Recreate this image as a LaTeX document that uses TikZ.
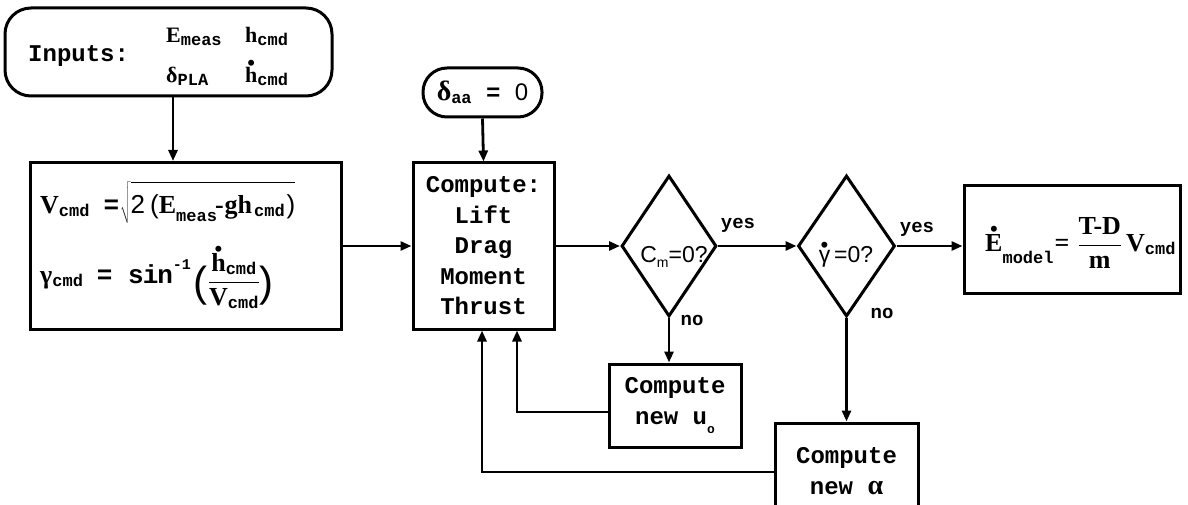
\documentclass[tikz,border=0pt]{standalone}
\usepackage{fontspec}
\setmainfont{Liberation Serif}
\setmonofont{Liberation Mono}
\newfontfamily\sansf{Liberation Sans}
\usetikzlibrary{shapes.geometric,arrows.meta}
\newcommand\tfnt{\fontsize{24}{30.5}\selectfont\ttfamily\bfseries}
\newcommand\sbx[2][3pt]{\raisebox{-#1}{\fontsize{17}{17}\selectfont\ttfamily\bfseries #2}}
\newcommand\dotover[1]{\leavevmode\vbox{\offinterlineskip\halign{\hfil##\hfil\cr{\fontsize{22}{22}\selectfont\textbullet}\cr\noalign{\kern-3pt}#1\cr}}}
\newcommand\bigpar[1]{\raisebox{-13pt}{\fontsize{42}{42}\selectfont\sansf\mdseries #1}}
\begin{document}
\begin{tikzpicture}[x=1pt,y=-1pt,
  box/.style={draw, line width=3pt, inner sep=0pt, align=center, font=\tfnt},
  arr/.style={-{Triangle[length=11pt,width=9pt]}, line width=2.8pt},
  lab/.style={font=\fontsize{19}{19}\selectfont\ttfamily\bfseries, inner sep=0pt},
  txt/.style={inner sep=0pt, anchor=base west},
  mth/.style={txt, font=\fontsize{26}{26}\selectfont\rmfamily\bfseries},
  dia/.style={draw, shape=diamond, line width=3pt, inner sep=0pt, minimum width=95pt, minimum height=141pt},
]
\path[use as bounding box] (0,0) rectangle (1188,505);

% Inputs
\node[box, rounded corners=26pt, minimum width=327pt, minimum height=88pt] (in) at (168.5,52) {};
\node[txt, font=\tfnt] (inl) at (28,62) {Inputs:};
\node[mth, font=\fontsize{22}{22}\selectfont\rmfamily\bfseries] (ie) at (166,43) {E\sbx{meas}};
\node[mth, font=\fontsize{22}{22}\selectfont\rmfamily\bfseries] (ih) at (245,43) {h\sbx{cmd}};
\node[mth, font=\fontsize{22}{22}\selectfont\rmfamily\bfseries] (id) at (166,83) {δ\sbx{PLA}};
\node[mth, font=\fontsize{22}{22}\selectfont\rmfamily\bfseries] (ihd) at (245,83) {\dotover{h}\sbx{cmd}};

% Formula box
\node[box, minimum width=311pt, minimum height=167pt] (form) at (185.5,246) {};
\node[mth] (fv) at (40,213)
  {V\sbx{cmd}\hspace{14pt}{\ttfamily =}\hspace{1pt}$\sqrt{\hbox{\rule{0pt}{29pt}{\sansf\mdseries 2\hspace{5pt}(}E\sbx[9pt]{meas}\kern-2pt-\kern1pt gh\kern2pt\sbx{cmd}{\sansf\mdseries\kern2pt)}}}$};
\node[mth] (fg) at (40,283)
  {γ\sbx{cmd}\hspace{14pt}{\ttfamily = s\kern-1pt i\kern-1pt n}\raisebox{14pt}{\fontsize{15}{15}\selectfont\ttfamily\bfseries -1}\kern3pt%
   \bigpar{(}\raisebox{-5pt}{$\displaystyle\frac{\hbox{\dotover{h}\sbx{cmd}}}{\hbox{V\sbx{cmd}}}$}\bigpar{)}};

% delta_aa = 0
\node[box, rounded corners=24pt, minimum width=119pt, minimum height=49pt] (delta) at (482.5,92.5)
  {{\fontsize{28}{28}\selectfont\rmfamily\bfseries δ}\sbx{aa} = {\sansf\mdseries 0}};

% Compute box
\node[box, minimum width=141pt, minimum height=166pt] (comp) at (483.5,246)
  {Compute:\\Lift\\Drag\\Moment\\Thrust};

% Diamonds
\node[dia] (d1) at (669,246) {};
\node[font=\fontsize{23}{23}\selectfont\sansf, inner sep=0pt, anchor=base] (t1) at (674,262)
  {C\raisebox{-5pt}{\fontsize{14}{14}\selectfont m}=0?};
\node[dia, minimum width=97pt] (d2) at (846.5,246) {};
\node[font=\fontsize{23}{23}\selectfont\sansf, inner sep=0pt, anchor=base] (t2) at (846,262)
  {\dotover{γ}\,=0?};

% E model box
\node[box, minimum width=216pt, minimum height=107pt] (E) at (1072,239.5) {};
\node[mth] (et) at (985,251)
  {\dotover{E}\raisebox{-13pt}{\fontsize{17}{17}\selectfont\ttfamily\bfseries model}\kern1pt=\kern8pt$\displaystyle\frac{\hbox{T-D}}{\hbox{m}}$\kern4pt V\sbx{cmd}};

% Compute new u0
\node[box, minimum width=132pt, minimum height=83pt] (u0) at (675,405.5)
  {Compute\\new u\raisebox{-9pt}{\fontsize{13}{13}\selectfont o}};

% Compute new alpha
\node[box, minimum width=143pt, minimum height=96pt] (al) at (846.5,471)
  {Compute\\new {\rmfamily\fontsize{28}{28}\selectfont α}};

% Connectors
\coordinate (a1) at (173,0);
\draw[arr] (in.south -| a1) -- (form.north -| a1);
\draw[arr] (delta.south) -- (comp.north);
\draw[arr] (form.east) -- (comp.west);
\draw[arr] (comp.east) -- (d1.west);
\draw[arr] (d1.east) -- (d2.west);
\draw[arr] (d2.east) -- (d2.east -| E.west);
\draw[arr] (d1.south) -- (d1.south |- u0.north);
\draw[arr] (d2.south) -- (d2.south |- al.north);
\coordinate (f1) at (517,412);
\draw[arr] (u0.west |- f1) -- (f1) -- (f1 |- comp.south);
\coordinate (f2) at (482,472);
\draw[arr] (al.west |- f2) -- (f2) -- (f2 |- comp.south);

% Labels
\node[lab] (y1) at (738,225) {yes};
\node[lab] (y2) at (917,229) {yes};
\node[lab] (n1) at (692,320) {no};
\node[lab] (n2) at (882,313) {no};
\end{tikzpicture}
\end{document}
